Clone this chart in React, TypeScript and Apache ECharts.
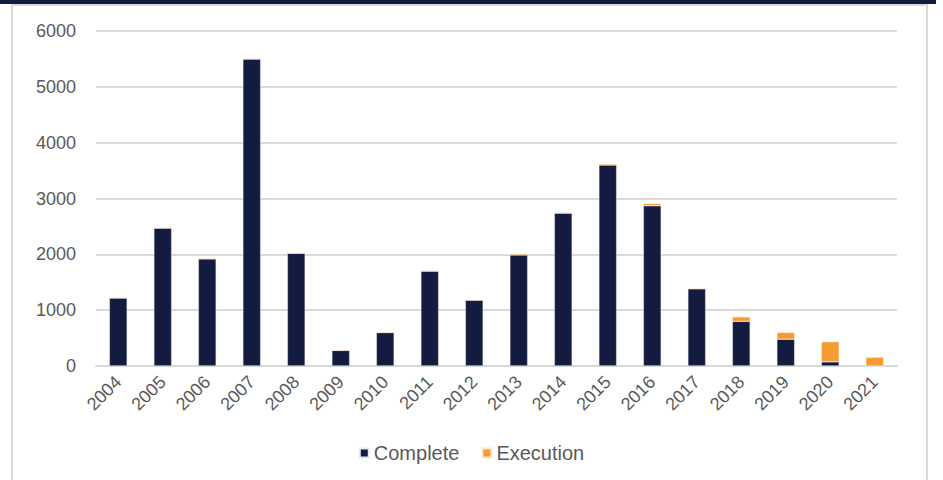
import React, { useEffect, useRef } from "react";
import * as echarts from "echarts";

const years = ["2004","2005","2006","2007","2008","2009","2010","2011","2012","2013","2014","2015","2016","2017","2018","2019","2020","2021"];
const complete = [1220, 2470, 1920, 5500, 2020, 280, 600, 1700, 1180, 1990, 2740, 3600, 2870, 1385, 800, 480, 75, 0];
const execution = [0, 0, 0, 0, 0, 0, 0, 0, 0, 20, 0, 20, 40, 0, 80, 120, 360, 155];
const yTicks = [0, 1000, 2000, 3000, 4000, 5000, 6000];

export default function App() {
  const ref = useRef<HTMLDivElement>(null);
  useEffect(() => {
    const chart = echarts.init(ref.current!, null, { renderer: "svg" });
    const font = "Liberation Sans, Arial, sans-serif";
    chart.setOption({
      animation: false,
      backgroundColor: "#ffffff",
      graphic: [
        { type: "rect", shape: { x: 0, y: 0, width: 936, height: 4 }, style: { fill: "#131b3d" }, z: 10 },
        { type: "rect", shape: { x: 12, y: 5, width: 915, height: 480 }, style: { fill: "none", stroke: "#d9d9d9", lineWidth: 2 }, z: 10 },
      ],
      grid: { left: 96, right: 46, top: 31, bottom: 114 },
      legend: {
        data: ["Complete", "Execution"],
        top: 438,
        left: "center",
        itemWidth: 9,
        itemHeight: 9,
        itemGap: 22,
        icon: "rect",
        textStyle: { color: "#595959", fontSize: 20, fontFamily: font },
      },
      xAxis: {
        type: "category",
        data: years,
        axisLine: { show: true, lineStyle: { color: "#d9d9d9", width: 2 } },
        axisTick: { show: false },
        axisLabel: { rotate: 45, color: "#595959", fontSize: 18, fontFamily: font, margin: 13, interval: 0 },
      },
      yAxis: {
        type: "value",
        min: yTicks[0],
        max: yTicks[yTicks.length - 1],
        interval: 1000,
        axisLine: { show: false },
        axisTick: { show: false },
        splitLine: { lineStyle: { color: "#d9d9d9", width: 2 } },
        axisLabel: { color: "#595959", fontSize: 18, fontFamily: font, margin: 20, formatter: (v: number) => String(v) },
      },
      series: [
        {
          name: "Complete",
          type: "bar",
          stack: "a",
          data: complete,
          barWidth: "40%",
          itemStyle: { color: "#131c40", borderColor: "#e6e8ef", borderWidth: 0.5 },
        },
        {
          name: "Execution",
          type: "bar",
          stack: "a",
          data: execution,
          barWidth: "40%",
          itemStyle: { color: "#f59b33", borderColor: "#fde6cc", borderWidth: 0.5 },
        },
      ],
    });
    return () => chart.dispose();
  }, []);
  return <div ref={ref} style={{ position: "fixed", left: 0, top: 0, width: 943, height: 480 }} />;
}
